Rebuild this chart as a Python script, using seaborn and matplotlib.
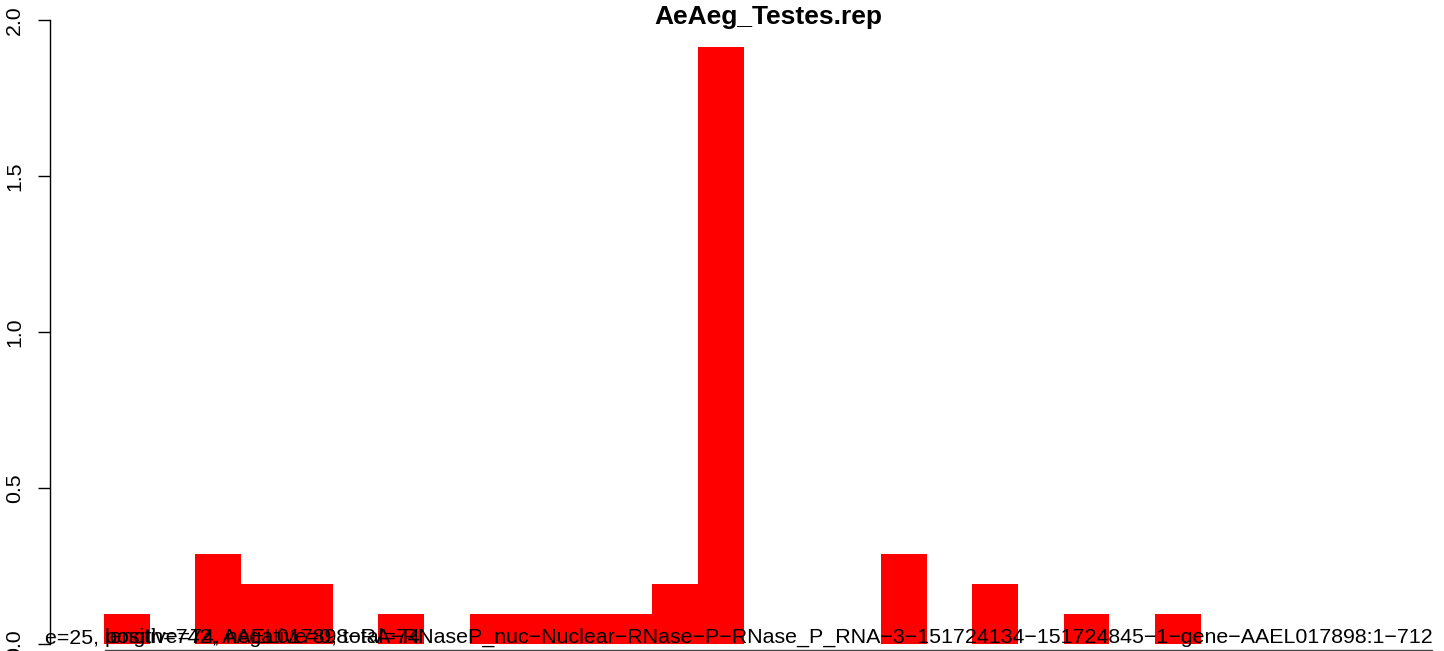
import numpy as np
import pandas as pd
import matplotlib
matplotlib.use('Agg')
import matplotlib.pyplot as plt
import matplotlib.lines as mlines
import seaborn as sns

sns.set_style('white')
plt.rcParams['font.family'] = ['Liberation Sans', 'DejaVu Sans']
plt.rcParams['text.color'] = 'black'

# --- data ---
bins = list(range(25))
values = [0.096, 0, 0.287, 0.191, 0.191, 0, 0.096, 0, 0.096, 0.096,
          0.096, 0.096, 0.191, 1.914, 0, 0, 0, 0.287, 0, 0.191,
          0, 0.096, 0, 0.096, 0]
title = 'AeAeg_Testes.rep'
prefix = 'e=25, '
info_line = ('length=742, AAEL017898\u2212RA\u2212RNaseP_nuc\u2212Nuclear\u2212RNase\u2212P\u2212'
             'RNase_P_RNA\u22123\u2212151724134\u2212151724845\u22121\u2212gene\u2212AAEL017898:1\u2212712')
count_line = 'positive=74, negative=0, total=74'
yticks = [0.0, 0.5, 1.0, 1.5, 2.0]

df = pd.DataFrame({'bin': [str(b) for b in bins], 'value': values})

W, H = 1444, 651
fig = plt.figure(figsize=(W / 100, H / 100), dpi=100)

# layout in pixels
ax_left, ax_right = 50, 1400
ax_top, ax_bottom = 20, 644
bar_px = 45.7
first_bar_left = 104

ax = fig.add_axes([ax_left / W, (H - ax_bottom) / H,
                   (ax_right - ax_left) / W, (ax_bottom - ax_top) / H])

sns.barplot(data=df, x='bin', y='value', order=df['bin'], color='#ff0000',
            saturation=1, width=1.0, linewidth=0, ax=ax)

x0 = -0.5 - (first_bar_left - ax_left) / bar_px
x1 = -0.5 + (ax_right - first_bar_left) / bar_px
ax.set_xlim(x0, x1)
ax.set_ylim(0, 2.0)
ax.set_xlabel('')
ax.set_ylabel('')
ax.set_xticks([])
ax.set_yticks(yticks)
ax.set_yticklabels([f'{t:.1f}' for t in yticks], rotation=90, va='center', fontsize=15.3)
ax.tick_params(axis='y', direction='out', length=8.6, width=1.0, pad=10,
               left=True, colors='black', labelcolor='black')
for s in ['top', 'right', 'bottom']:
    ax.spines[s].set_visible(False)
ax.spines['left'].set_color('black')
ax.spines['left'].set_linewidth(1.0)
ax.patch.set_alpha(0)

fig.text(768 / W, (H - 24) / H, title, ha='center', va='baseline',
         fontsize=19, fontweight='bold', color='black')

base_y = (H - 643) / H
fig.text(105 / W, base_y, prefix, ha='right', va='baseline', fontsize=15.4, color='black')
fig.text(105 / W, base_y, info_line, ha='left', va='baseline', fontsize=15.4, color='black')
fig.text(105 / W, base_y, count_line, ha='left', va='baseline', fontsize=15.4, color='black')

fig.add_artist(mlines.Line2D([105 / W, 1432 / W], [(H - 649.5) / H] * 2,
                             color='#444444', linewidth=1.0))

fig.savefig('out.png', dpi=100)
